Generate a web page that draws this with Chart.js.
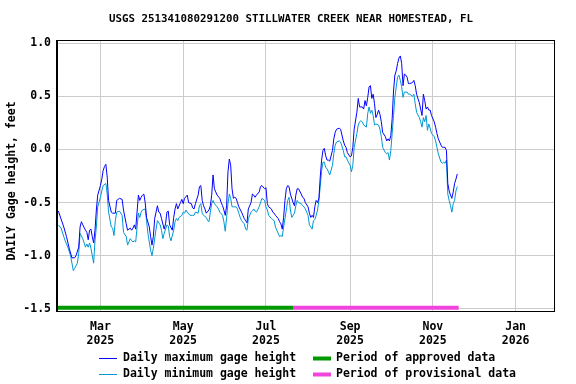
<!DOCTYPE html>
<html>
<head>
<meta charset="utf-8">
<script src="https://cdn.jsdelivr.net/npm/chart.js@4.4.1/dist/chart.umd.min.js"></script>
<style>
  html, body { margin: 0; padding: 0; background: #fff; }
  #wrap { width: 576px; height: 384px; }
</style>
</head>
<body>
<div id="wrap"><canvas id="chart" width="576" height="384"></canvas></div>
<script>
// day numbers are counted from the first day of record
var startDate = '2025-01-29';

var maxDays = [0, 4, 6, 8, 10, 12, 13, 15, 16, 17, 18, 20, 21, 22, 23, 24, 25, 26, 27, 28,
  29, 31, 32, 33, 34, 35, 36, 37, 39, 40, 42, 43, 44, 45, 47, 48, 50, 51, 53, 54,
  55, 56, 57, 59, 60, 61, 62, 63, 64, 65, 67, 68, 69, 70, 71, 73, 74, 75, 76, 78,
  79, 80, 81, 82, 84, 85, 86, 87, 88, 90, 91, 92, 93, 95, 96, 98, 99, 100, 101, 103,
  104, 105, 106, 107, 108, 109, 111, 112, 113, 114, 115, 116, 117, 119, 120, 121, 122, 123, 124, 125,
  126, 127, 128, 129, 130, 131, 132, 133, 135, 136, 137, 138, 139, 140, 142, 143, 144, 145, 146, 148,
  149, 150, 152, 153, 154, 155, 157, 158, 159, 160, 162, 163, 164, 165, 166, 167, 168, 169, 170, 171,
  173, 174, 175, 176, 177, 179, 180, 181, 182, 184, 185, 186, 187, 188, 189, 190, 191, 192, 193, 194,
  195, 196, 197, 198, 199, 200, 202, 203, 204, 205, 207, 208, 210, 211, 212, 213, 215, 216, 217, 218,
  220, 221, 222, 224, 225, 226, 227, 228, 229, 230, 231, 232, 233, 234, 235, 236, 237, 238, 239, 241,
  242, 243, 244, 245, 246, 247, 248, 249, 250, 251, 252, 253, 254, 255, 256, 257, 258, 259, 261, 262,
  263, 264, 266, 267, 268, 269, 270, 271, 272, 273, 274, 275, 277, 278, 279, 280, 282, 283, 284, 285,
  286, 287, 288, 289, 290, 291, 292, 293, 294];
var maxVals = [-0.58, -0.73, -0.82, -0.93, -1.02, -1.02, -1.00, -0.92, -0.73, -0.68, -0.71, -0.76, -0.78, -0.85, -0.76, -0.75, -0.82, -0.88, -0.76, -0.57,
  -0.43, -0.34, -0.28, -0.20, -0.16, -0.14, -0.26, -0.48, -0.59, -0.60, -0.60, -0.48, -0.47, -0.46, -0.47, -0.57, -0.70, -0.76, -0.74, -0.76,
  -0.74, -0.71, -0.75, -0.43, -0.48, -0.45, -0.43, -0.42, -0.50, -0.64, -0.73, -0.82, -0.90, -0.82, -0.65, -0.53, -0.59, -0.60, -0.65, -0.75,
  -0.70, -0.59, -0.58, -0.71, -0.76, -0.64, -0.56, -0.51, -0.56, -0.50, -0.47, -0.51, -0.46, -0.43, -0.50, -0.51, -0.55, -0.56, -0.51, -0.43,
  -0.35, -0.34, -0.48, -0.53, -0.56, -0.60, -0.57, -0.53, -0.43, -0.24, -0.37, -0.40, -0.43, -0.46, -0.50, -0.53, -0.57, -0.62, -0.53, -0.21,
  -0.09, -0.15, -0.37, -0.46, -0.45, -0.46, -0.50, -0.54, -0.59, -0.62, -0.65, -0.67, -0.69, -0.56, -0.50, -0.42, -0.43, -0.45, -0.43, -0.40,
  -0.35, -0.34, -0.37, -0.36, -0.51, -0.54, -0.56, -0.59, -0.60, -0.62, -0.65, -0.68, -0.70, -0.75, -0.64, -0.48, -0.37, -0.34, -0.35, -0.42,
  -0.50, -0.53, -0.43, -0.37, -0.37, -0.42, -0.45, -0.46, -0.50, -0.54, -0.60, -0.64, -0.62, -0.64, -0.54, -0.48, -0.50, -0.46, -0.26, -0.10,
  -0.01, 0.01, -0.06, -0.10, -0.10, -0.11, -0.01, 0.10, 0.16, 0.19, 0.20, 0.19, 0.08, 0.04, 0.02, -0.03, -0.07, -0.06, 0.02, 0.19,
  0.35, 0.48, 0.40, 0.40, 0.38, 0.46, 0.41, 0.49, 0.59, 0.60, 0.48, 0.52, 0.43, 0.30, 0.33, 0.37, 0.33, 0.26, 0.16, 0.12,
  0.08, 0.10, 0.08, 0.13, 0.29, 0.55, 0.70, 0.74, 0.81, 0.86, 0.88, 0.81, 0.60, 0.71, 0.70, 0.68, 0.62, 0.62, 0.63, 0.65,
  0.60, 0.52, 0.44, 0.38, 0.32, 0.52, 0.46, 0.38, 0.40, 0.37, 0.37, 0.32, 0.26, 0.21, 0.15, 0.10, 0.04, 0.02, 0.02, 0.02,
  -0.01, -0.32, -0.39, -0.43, -0.46, -0.40, -0.32, -0.28, -0.23];

var minDays = [0, 2, 5, 7, 9, 11, 12, 14, 15, 16, 18, 20, 21, 22, 23, 24, 25, 26, 27, 28,
  29, 31, 32, 33, 35, 36, 37, 39, 40, 41, 42, 43, 45, 47, 48, 50, 51, 53, 54, 55,
  56, 57, 59, 60, 61, 62, 64, 65, 66, 67, 68, 69, 70, 72, 73, 75, 76, 77, 78, 80,
  81, 82, 83, 85, 86, 87, 88, 89, 91, 92, 93, 94, 95, 97, 99, 100, 101, 103, 104, 105,
  106, 107, 109, 110, 111, 112, 113, 114, 115, 117, 118, 119, 121, 122, 123, 124, 125, 126, 127, 128,
  129, 131, 132, 133, 134, 135, 137, 138, 139, 140, 142, 143, 144, 145, 146, 148, 149, 150, 152, 153,
  154, 155, 157, 158, 159, 160, 162, 163, 164, 165, 166, 168, 169, 170, 171, 172, 174, 175, 176, 177,
  179, 180, 181, 182, 184, 185, 187, 188, 189, 190, 191, 192, 193, 194, 195, 196, 197, 198, 199, 200,
  202, 203, 204, 205, 207, 208, 210, 211, 212, 213, 215, 216, 217, 218, 220, 221, 222, 223, 224, 225,
  227, 228, 229, 230, 231, 232, 233, 234, 236, 237, 238, 239, 241, 242, 243, 244, 245, 246, 247, 248,
  249, 250, 251, 252, 253, 254, 255, 257, 258, 259, 261, 262, 263, 264, 266, 267, 268, 269, 270, 271,
  272, 273, 274, 275, 277, 278, 279, 280, 282, 283, 284, 285, 286, 287, 288, 289, 290, 291, 292, 293,
  294];
var minVals = [-0.71, -0.74, -0.86, -0.92, -1.00, -1.14, -1.12, -1.07, -0.98, -0.79, -0.84, -0.92, -0.89, -0.92, -0.88, -0.93, -1.00, -1.07, -0.86, -0.73,
  -0.54, -0.45, -0.39, -0.34, -0.32, -0.42, -0.59, -0.73, -0.74, -0.81, -0.67, -0.59, -0.58, -0.62, -0.78, -0.82, -0.90, -0.84, -0.86, -0.87,
  -0.86, -0.87, -0.60, -0.64, -0.59, -0.57, -0.56, -0.67, -0.79, -0.87, -0.95, -1.00, -0.93, -0.75, -0.67, -0.71, -0.76, -0.84, -0.79, -0.71,
  -0.72, -0.82, -0.86, -0.76, -0.68, -0.65, -0.67, -0.64, -0.62, -0.59, -0.60, -0.57, -0.59, -0.62, -0.62, -0.62, -0.59, -0.60, -0.53, -0.51,
  -0.60, -0.62, -0.64, -0.67, -0.68, -0.59, -0.51, -0.48, -0.51, -0.54, -0.56, -0.59, -0.62, -0.68, -0.77, -0.64, -0.51, -0.42, -0.46, -0.54,
  -0.54, -0.54, -0.56, -0.60, -0.64, -0.67, -0.70, -0.75, -0.76, -0.65, -0.59, -0.58, -0.56, -0.58, -0.59, -0.54, -0.50, -0.46, -0.48, -0.54,
  -0.57, -0.62, -0.65, -0.66, -0.67, -0.73, -0.79, -0.82, -0.81, -0.82, -0.73, -0.57, -0.48, -0.45, -0.57, -0.64, -0.60, -0.53, -0.48, -0.50,
  -0.51, -0.53, -0.54, -0.56, -0.62, -0.71, -0.75, -0.67, -0.66, -0.62, -0.57, -0.48, -0.35, -0.20, -0.12, -0.12, -0.17, -0.18, -0.21, -0.24,
  -0.15, -0.04, 0.04, 0.07, 0.08, 0.07, -0.01, -0.07, -0.07, -0.10, -0.15, -0.21, -0.15, 0.02, 0.15, 0.23, 0.26, 0.27, 0.26, 0.23,
  0.21, 0.34, 0.40, 0.34, 0.37, 0.32, 0.23, 0.24, 0.23, 0.19, 0.12, 0.02, -0.03, -0.04, -0.03, -0.10, -0.01, 0.15, 0.32, 0.49,
  0.59, 0.68, 0.70, 0.65, 0.59, 0.49, 0.54, 0.54, 0.52, 0.52, 0.50, 0.52, 0.43, 0.35, 0.30, 0.26, 0.21, 0.30, 0.26, 0.32,
  0.18, 0.24, 0.20, 0.15, 0.12, 0.08, 0.02, -0.04, -0.12, -0.13, -0.12, -0.13, -0.10, -0.42, -0.48, -0.53, -0.59, -0.51, -0.48, -0.39,
  -0.35];

var tickDates = ['2025-03-01', '2025-05-01', '2025-07-01', '2025-09-01', '2025-11-01', '2026-01-01'];
var tickLabels = [['Mar', '2025'], ['May', '2025'], ['Jul', '2025'], ['Sep', '2025'], ['Nov', '2025'], ['Jan', '2026']];
var yTicks = [-1.5, -1.0, -0.5, 0.0, 0.5, 1.0];
var axisRange = ['2025-01-28', '2026-01-30'];
var yRange = [-1.53, 1.03];

var approvedRange = ['2025-01-28', '2025-07-21'];
var provisionalRange = ['2025-07-21', '2025-11-20'];
var periodLevel = -1.49;

var titleText = 'USGS 251341080291200 STILLWATER CREEK NEAR HOMESTEAD, FL';
var yTitle = 'DAILY Gage height, feet';
var seriesNames = ['Daily maximum gage height', 'Daily minimum gage height',
  'Period of approved data', 'Period of provisional data'];
var colors = ['#0000ff', '#0096d2', '#009900', '#f044dc'];

function dayOf(s) {
  var a = s.split('-'), b = startDate.split('-');
  return (Date.UTC(+a[0], a[1] - 1, +a[2]) - Date.UTC(+b[0], b[1] - 1, +b[2])) / 864e5;
}
function pairs(days, vals) {
  return days.map(function(d, i) { return {x: d, y: vals[i]}; });
}
function period(r) {
  return [{x: dayOf(r[0]), y: periodLevel}, {x: dayOf(r[1]), y: periodLevel}];
}

var family = '"DejaVu Sans Mono", monospace';
var fontCss = 'bold 11.5px ' + family;

var frame = {
  id: 'frame',
  afterDatasetsDraw: function(chart) {
    var a = chart.chartArea, ctx = chart.ctx;
    ctx.save();
    ctx.strokeStyle = '#000';
    ctx.lineWidth = 1;
    ctx.strokeRect(a.left + 0.5, a.top + 0.5, a.right - a.left - 1, a.bottom - a.top - 1);
    ctx.lineWidth = 2;
    ctx.beginPath();
    ctx.moveTo(a.left, a.top);
    ctx.lineTo(a.left, a.bottom);
    ctx.stroke();
    ctx.restore();
  },
  afterDraw: function(chart) {
    var ctx = chart.ctx;
    ctx.save();
    ctx.fillStyle = '#000';
    ctx.textBaseline = 'middle';
    ctx.textAlign = 'center';
    ctx.font = 'bold 10.8px ' + family;
    ctx.fillText(titleText, 291, 19);

    ctx.font = fontCss;
    ctx.save();
    ctx.translate(12, 181);
    ctx.rotate(-Math.PI / 2);
    ctx.fillText(yTitle, 0, 0);
    ctx.restore();

    // legend, two columns
    ctx.textAlign = 'left';
    var rows = [358, 374];
    for (var i = 0; i < 4; i++) {
      var col = i < 2 ? 0 : 1;
      var y = rows[i % 2];
      var x0 = col ? 313 : 99, x1 = col ? 331 : 117, tx = col ? 336 : 123;
      ctx.strokeStyle = colors[i];
      ctx.lineWidth = col ? 4 : 1;
      ctx.beginPath();
      ctx.moveTo(x0, y + 0.5);
      ctx.lineTo(x1, y + 0.5);
      ctx.stroke();
      ctx.fillText(seriesNames[i], tx, y);
    }
    ctx.restore();
  }
};

new Chart(document.getElementById('chart'), {
  type: 'line',
  data: {
    datasets: [
      {label: seriesNames[0], data: pairs(maxDays, maxVals), borderColor: colors[0], borderWidth: 1, pointRadius: 0, tension: 0},
      {label: seriesNames[1], data: pairs(minDays, minVals), borderColor: colors[1], borderWidth: 1, pointRadius: 0, tension: 0},
      {label: seriesNames[2], data: period(approvedRange), borderColor: colors[2], borderWidth: 4, borderCapStyle: 'butt', pointRadius: 0},
      {label: seriesNames[3], data: period(provisionalRange), borderColor: colors[3], borderWidth: 4, borderCapStyle: 'butt', pointRadius: 0}
    ]
  },
  options: {
    responsive: false,
    animation: false,
    events: [],
    layout: {padding: {left: 0, right: 21, top: 40, bottom: 40}},
    plugins: {legend: {display: false}, title: {display: false}, tooltip: {enabled: false}},
    scales: {
      x: {
        type: 'linear',
        min: dayOf(axisRange[0]),
        max: dayOf(axisRange[1]),
        afterBuildTicks: function(s) { s.ticks = tickDates.map(function(d) { return {value: dayOf(d)}; }); },
        afterFit: function(s) { s.height = 32; },
        grid: {color: '#cccccc', lineWidth: 1, drawTicks: false},
        border: {display: false},
        ticks: {
          autoSkip: false, maxRotation: 0, padding: 8, color: '#000',
          font: {family: family, size: 11.5, weight: 'bold', lineHeight: 1.2},
          callback: function(v, i) { return tickLabels[i]; }
        }
      },
      y: {
        min: yRange[0],
        max: yRange[1],
        afterBuildTicks: function(s) { s.ticks = yTicks.map(function(v) { return {value: v}; }); },
        afterFit: function(s) { s.width = 57; },
        grid: {color: '#cccccc', lineWidth: 1, drawTicks: false},
        border: {display: false},
        ticks: {
          padding: 6, color: '#000',
          font: {family: family, size: 11.5, weight: 'bold'},
          callback: function(v) { return v.toFixed(1); }
        }
      }
    }
  },
  plugins: [frame]
});
</script>
</body>
</html>
